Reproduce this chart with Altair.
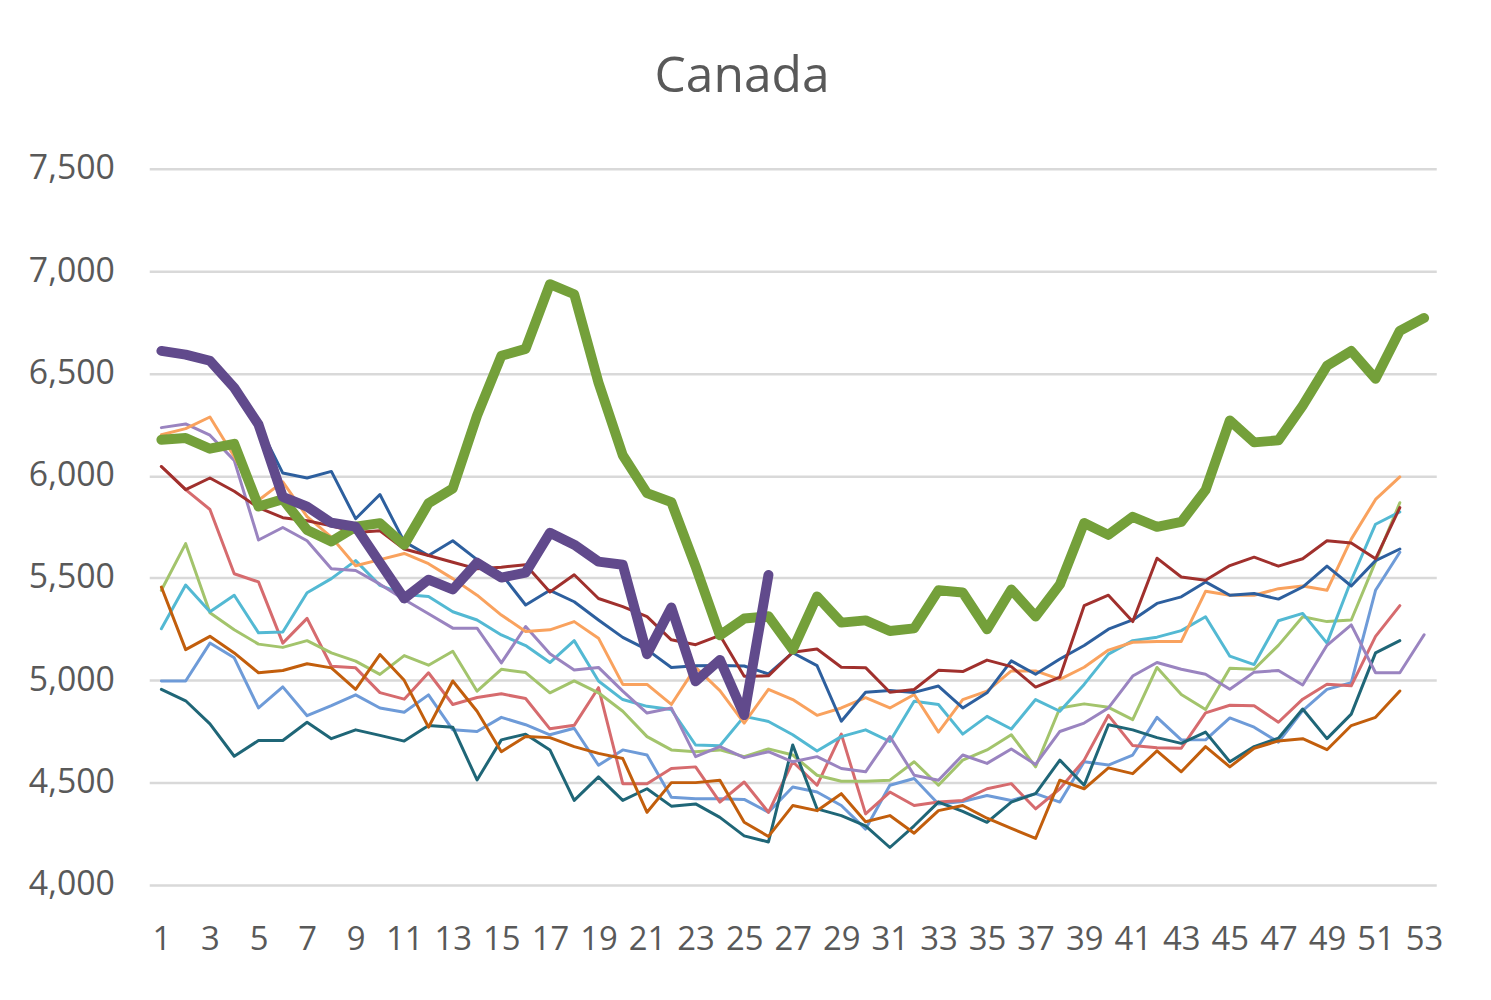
import altair as alt
import pandas as pd

weeks52 = list(range(1, 53))
weeks53 = list(range(1, 54))
weeks26 = list(range(1, 27))

# thin series (weekly values)
dark_blue = [6600, 6585, 6555, 6430, 6250, 6013, 5989, 6021, 5790, 5908, 5678, 5610, 5682, 5590, 5520, 5368, 5440, 5384, 5295, 5210,
             5150, 5063, 5071, 5072, 5070, 5031, 5135, 5072, 4800, 4942, 4950, 4941, 4972, 4865, 4939, 5095, 5030, 5104, 5170, 5250,
             5295, 5376, 5408, 5481, 5416, 5424, 5397, 5456, 5558, 5461, 5585, 5642]
dark_red = [6045, 5932, 5989, 5924, 5844, 5795, 5780, 5755, 5723, 5731, 5642, 5610, 5577, 5545, 5553, 5565, 5432, 5516, 5400, 5360,
            5311, 5198, 5174, 5220, 5020, 5022, 5137, 5153, 5064, 5062, 4942, 4955, 5049, 5043, 5099, 5067, 4967, 5016, 5365, 5416,
            5287, 5597, 5505, 5489, 5561, 5602, 5558, 5594, 5682, 5671, 5594, 5844]
light_orange = [6200, 6230, 6287, 6094, 5880, 5970, 5800, 5700, 5560, 5590, 5620, 5570, 5497, 5416, 5319, 5239, 5247, 5287, 5206, 4980,
                4980, 4882, 5063, 4950, 4791, 4956, 4906, 4829, 4865, 4915, 4865, 4931, 4747, 4906, 4947, 5046, 5046, 5005, 5064, 5148,
                5186, 5190, 5190, 5435, 5416, 5416, 5448, 5461, 5440, 5690, 5884, 5994]
cyan = [5252, 5466, 5335, 5416, 5232, 5236, 5428, 5497, 5585, 5464, 5420, 5410, 5335, 5295, 5222, 5170, 5087, 5194, 4997, 4906,
        4873, 4857, 4684, 4680, 4824, 4799, 4734, 4655, 4725, 4758, 4701, 4898, 4882, 4737, 4824, 4762, 4906, 4849, 4980, 5128,
        5194, 5211, 5243, 5311, 5118, 5077, 5291, 5327, 5182, 5489, 5763, 5823]
light_green = [5440, 5668, 5330, 5247, 5177, 5161, 5194, 5134, 5094, 5029, 5121, 5074, 5142, 4947, 5054, 5038, 4939, 4997, 4939, 4849,
               4725, 4660, 4651, 4660, 4627, 4665, 4635, 4536, 4507, 4507, 4512, 4602, 4487, 4610, 4660, 4734, 4577, 4865, 4885, 4868,
               4808, 5063, 4931, 4857, 5059, 5054, 5171, 5311, 5287, 5295, 5580, 5868]
salmon = [6045, 5932, 5835, 5521, 5481, 5182, 5303, 5069, 5061, 4940, 4908, 5037, 4882, 4916, 4934, 4911, 4763, 4780, 4964, 4495,
          4495, 4569, 4577, 4405, 4503, 4355, 4602, 4487, 4737, 4347, 4454, 4388, 4405, 4413, 4470, 4495, 4372, 4470, 4610, 4829,
          4681, 4671, 4668, 4841, 4878, 4876, 4795, 4908, 4981, 4973, 5215, 5365]
light_blue = [4997, 4997, 5182, 5110, 4865, 4968, 4827, 4876, 4929, 4865, 4844, 4929, 4758, 4750, 4819, 4783, 4734, 4766, 4585, 4660,
              4635, 4429, 4421, 4421, 4418, 4355, 4479, 4454, 4388, 4273, 4487, 4520, 4396, 4408, 4437, 4413, 4446, 4405, 4602, 4586,
              4635, 4819, 4709, 4709, 4816, 4771, 4698, 4852, 4956, 4989, 5440, 5626]
teal = [4956, 4900, 4787, 4629, 4706, 4706, 4795, 4715, 4758, 4731, 4703, 4779, 4771, 4513, 4709, 4737, 4660, 4413, 4528, 4413,
        4470, 4385, 4396, 4330, 4240, 4210, 4684, 4372, 4339, 4289, 4183, 4289, 4405, 4359, 4306, 4405, 4446, 4610, 4487, 4783,
        4758, 4720, 4692, 4747, 4602, 4676, 4717, 4860, 4715, 4835, 5134, 5194]
brown = [5456, 5150, 5215, 5134, 5037, 5048, 5081, 5061, 4956, 5126, 5000, 4771, 4997, 4849, 4651, 4725, 4720, 4676, 4643, 4618,
         4355, 4500, 4500, 4512, 4306, 4237, 4388, 4363, 4446, 4309, 4339, 4253, 4363, 4388, 4326, 4276, 4227, 4512, 4470, 4572,
         4544, 4655, 4553, 4676, 4577, 4668, 4704, 4715, 4661, 4779, 4819, 4948]
# 53-week thin series
lavender = [6235, 6253, 6198, 6075, 5686, 5747, 5682, 5545, 5537, 5470, 5395, 5325, 5255, 5255, 5085, 5263, 5130, 5051, 5063, 4947,
            4840, 4865, 4627, 4676, 4622, 4651, 4602, 4627, 4569, 4553, 4725, 4536, 4512, 4635, 4594, 4664, 4589, 4750, 4791, 4865,
            5021, 5087, 5054, 5030, 4956, 5040, 5048, 4977, 5171, 5271, 5037, 5037, 5223]
# thick series
green_2020 = [6176, 6184, 6132, 6156, 5850, 5885, 5735, 5679, 5751, 5768, 5662, 5865, 5938, 6294, 6586, 6620, 6936, 6887, 6455, 6100,
              5915, 5871, 5556, 5220, 5302, 5313, 5150, 5410, 5282, 5293, 5241, 5254, 5440, 5429, 5249, 5444, 5312, 5468, 5769, 5711,
              5799, 5750, 5774, 5930, 6270, 6163, 6173, 6343, 6537, 6610, 6474, 6708, 6771]
purple_2021 = [6610, 6592, 6562, 6430, 6250, 5897, 5849, 5770, 5751, 5575, 5400, 5492, 5444, 5575, 5502, 5526, 5721, 5663, 5580, 5565,
               5128, 5356, 4995, 5100, 4830, 5515]

thin_names = ["2010", "2011", "2012", "2013", "2014", "2015", "2016", "2017", "2018", "2019"]
thin_values = [light_blue, salmon, light_green, teal, cyan, lavender, light_orange, dark_blue, dark_red, brown]
thin_colors = ["#6E9BD8", "#D66B6E", "#A3C46C", "#1F6677", "#53B9D3", "#9A84C0", "#F9A25E", "#2D5F9E", "#A0302D", "#C25E0C"]

rows = []
for name, vals in zip(thin_names, thin_values):
    for w, v in zip(range(1, len(vals) + 1), vals):
        rows.append({"series": name, "week": w, "value": v})
thin_df = pd.DataFrame(rows)
green_df = pd.DataFrame({"series": "2020", "week": weeks53, "value": green_2020})
purple_df = pd.DataFrame({"series": "2021", "week": weeks26, "value": purple_2021})

FONT = "Open Sans"
x_enc = alt.X("week:Q",
              scale=alt.Scale(domain=[0.5, 53.5], nice=False, zero=False),
              axis=alt.Axis(values=list(range(1, 54, 2)), format="d", grid=False, domain=False, ticks=False,
                            labelFontSize=33, labelColor="#595959", labelFont=FONT, labelPadding=39,
                            labelFlush=False, labelOverlap=False, title=None))
y_enc = alt.Y("value:Q",
              scale=alt.Scale(domain=[4000, 7500], nice=False, zero=False),
              axis=alt.Axis(values=list(range(4000, 7501, 500)), format=",.0f", grid=True, gridColor="#D9D9D9",
                            gridWidth=2.5, domain=False, ticks=False, labelFontSize=34, labelColor="#595959",
                            labelFont=FONT, labelPadding=35, title=None))

thin = alt.Chart(thin_df).mark_line(strokeWidth=3, strokeJoin="round", strokeCap="round").encode(
    x=x_enc, y=y_enc,
    color=alt.Color("series:N", scale=alt.Scale(domain=thin_names, range=thin_colors), legend=None),
    detail="series:N",
)
green = alt.Chart(green_df).mark_line(strokeWidth=10, color="#74A03A", strokeJoin="round", strokeCap="round").encode(
    x="week:Q", y="value:Q")
purple = alt.Chart(purple_df).mark_line(strokeWidth=10, color="#614A8C", strokeJoin="round", strokeCap="round").encode(
    x="week:Q", y="value:Q")

chart = alt.layer(thin, green, purple).properties(
    width=1294, height=720,
    background="white",
    title=alt.TitleParams("Canada", fontSize=50, font=FONT, fontWeight="normal", color="#595959",
                          anchor="middle", dx=-51, offset=10, frame="group", baseline="alphabetic"),
    padding={"left": 142, "top": 159, "right": 47, "bottom": 113},
    autosize="none",
).configure_view(strokeWidth=0, stroke=None)

chart.save("out.html", embed_options={"renderer": "svg", "actions": False})
